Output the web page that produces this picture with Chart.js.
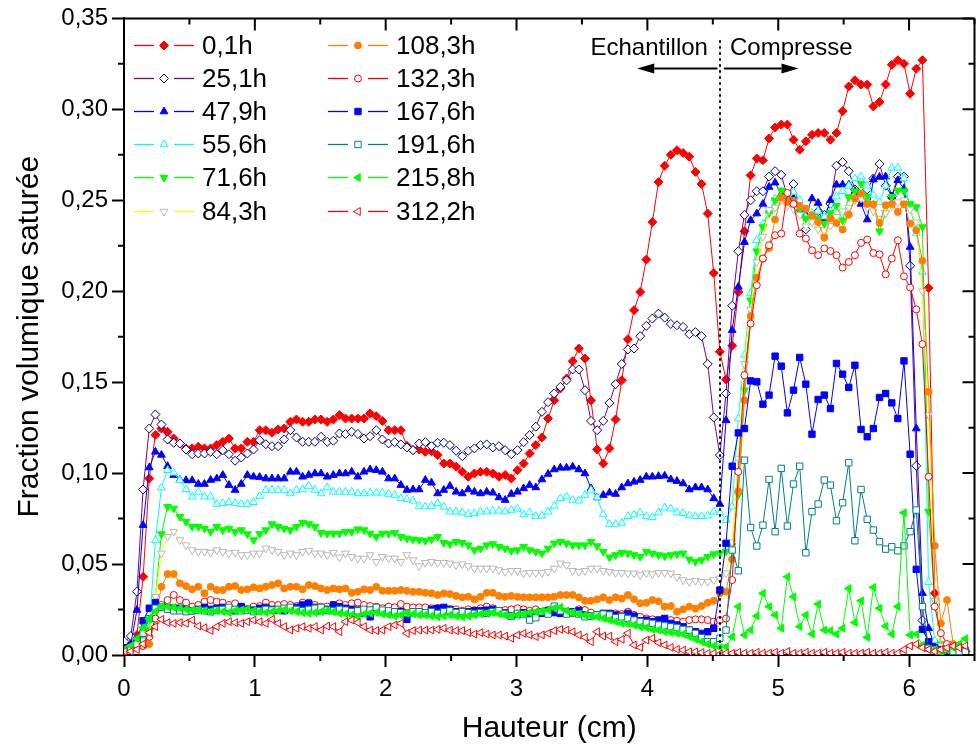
<!DOCTYPE html>
<html><head><meta charset="utf-8">
<script src="https://cdn.jsdelivr.net/npm/chart.js"></script>
<style>html,body{margin:0;padding:0;background:#fff;overflow:hidden;}#wrap{width:980px;height:751px;}</style>
</head><body><div id="wrap"><canvas id="c" width="980" height="751" style="width:980px;height:751px"></canvas></div>
<script>
// ---------- DATA ----------
const hauteur = [
0.005,0.052,0.099,0.146,0.193,0.240,0.286,0.333,0.380,0.427,
0.474,0.521,0.568,0.615,0.662,0.709,0.755,0.802,0.849,0.896,
0.943,0.990,1.037,1.084,1.131,1.178,1.224,1.271,1.318,1.365,
1.412,1.459,1.506,1.553,1.600,1.647,1.693,1.740,1.787,1.834,
1.881,1.928,1.975,2.022,2.069,2.116,2.162,2.209,2.256,2.303,
2.350,2.397,2.444,2.491,2.538,2.585,2.631,2.678,2.725,2.772,
2.819,2.866,2.913,2.960,3.007,3.054,3.100,3.147,3.194,3.241,
3.288,3.335,3.382,3.429,3.476,3.523,3.569,3.616,3.663,3.710,
3.757,3.804,3.851,3.898,3.945,3.992,4.038,4.085,4.132,4.179,
4.226,4.273,4.320,4.367,4.414,4.461,4.507,4.554,4.601,4.648,
4.695,4.742,4.789,4.836,4.883,4.930,4.976,5.023,5.070,5.117,
5.164,5.211,5.258,5.305,5.352,5.399,5.445,5.492,5.539,5.586,
5.633,5.680,5.727,5.774,5.821,5.868,5.914,5.961,6.008,6.055,
6.102,6.149,6.196,6.243,6.290,6.337,6.383,6.430];

const seriesLabels = ['0,1h','25,1h','47,9h','55,6h','71,6h','84,3h','108,3h','132,3h','167,6h','191,6h','215,8h','312,2h'];

const s0_1h = [
0.004,0.006,0.011,0.043,0.097,0.121,0.1245,0.1227,0.119,0.1163,
0.1136,0.1136,0.1145,0.1136,0.1136,0.1154,0.1172,0.119,0.1136,0.1136,
0.1172,0.1172,0.1236,0.1236,0.1222,0.124,0.1245,0.1282,0.1295,0.1282,
0.1282,0.1295,0.1295,0.1282,0.1295,0.1319,0.130,0.130,0.130,0.130,
0.1328,0.1313,0.1287,0.1236,0.1236,0.1236,0.1150,0.1126,0.113,0.1117,
0.112,0.110,0.1053,0.1053,0.1035,0.1007,0.098,0.0998,0.1007,0.1007,
0.0998,0.098,0.099,0.097,0.1016,0.1053,0.1108,0.1154,0.1196,0.130,
0.140,0.1465,0.152,0.1615,0.1685,0.163,0.140,0.113,0.1053,0.1136,
0.1295,0.151,0.1736,0.1896,0.1996,0.2174,0.238,0.260,0.269,0.275,
0.2775,0.276,0.274,0.2656,0.259,0.2427,0.210,0.1667,0.1515,0.170,
0.1996,0.233,0.2637,0.273,0.272,0.284,0.290,0.2916,0.2916,0.2833,
0.2778,0.2824,0.286,0.287,0.287,0.2833,0.287,0.299,0.3126,0.316,
0.3136,0.3136,0.3016,0.304,0.3137,0.3245,0.327,0.325,0.3086,0.3223,
0.327,0.2018,0.034,0.005,0.003,0.002,0.002,0.002];

const s25_1h = [
0.0073,0.0104,0.0348,0.091,0.1245,0.1322,0.1267,0.1185,0.1167,0.1163,
0.113,0.1104,0.1108,0.1108,0.1117,0.1104,0.1126,0.1104,0.1068,0.1086,
0.1108,0.113,0.1181,0.1159,0.1148,0.1148,0.1185,0.1236,0.1196,0.1172,
0.1172,0.1172,0.120,0.1172,0.1178,0.1218,0.1215,0.1227,0.1215,0.119,
0.1203,0.1236,0.1185,0.1163,0.117,0.1158,0.1141,0.1126,0.1163,0.117,
0.1148,0.1167,0.1167,0.1154,0.1123,0.1093,0.1123,0.1136,0.1154,0.1158,
0.1141,0.1148,0.1126,0.1104,0.1126,0.117,0.1209,0.1255,0.1337,0.139,
0.1438,0.1474,0.151,0.157,0.157,0.1456,0.1287,0.1236,0.1287,0.1386,
0.1489,0.160,0.168,0.1685,0.1753,0.181,0.185,0.1877,0.1855,0.182,
0.1813,0.1804,0.1764,0.1775,0.1753,0.160,0.1306,0.1099,0.1438,0.192,
0.222,0.242,0.250,0.255,0.255,0.263,0.266,0.264,0.252,0.259,
0.245,0.234,0.240,0.244,0.242,0.248,0.269,0.271,0.266,0.256,
0.250,0.256,0.262,0.270,0.258,0.252,0.263,0.263,0.214,0.104,
0.019,0.006,0.004,0.003,0.003,0.002,0.002,0.002];

const s47_9h = [
0.003,0.006,0.0247,0.0714,0.1031,0.1117,0.110,0.1038,0.0989,0.0962,
0.096,0.096,0.094,0.094,0.0962,0.097,0.0989,0.0934,0.0907,0.094,
0.0989,0.098,0.0978,0.097,0.097,0.097,0.097,0.1007,0.1007,0.098,
0.0989,0.0998,0.0998,0.098,0.0989,0.0998,0.0998,0.1007,0.098,0.1007,
0.102,0.1016,0.1007,0.097,0.097,0.0934,0.0907,0.091,0.091,0.0962,
0.0947,0.0888,0.0907,0.0929,0.0897,0.0888,0.091,0.0897,0.0888,0.0897,
0.0892,0.0866,0.0852,0.0885,0.0897,0.0916,0.0934,0.0921,0.0965,0.0995,
0.102,0.1029,0.1029,0.1035,0.102,0.0998,0.0916,0.0866,0.0879,0.0892,
0.0885,0.0921,0.0943,0.0952,0.0962,0.098,0.098,0.0983,0.0985,0.0965,
0.0956,0.0943,0.091,0.0921,0.0921,0.091,0.0861,0.083,0.129,0.1786,
0.2024,0.227,0.239,0.2427,0.248,0.2573,0.2597,0.2533,0.25,0.251,
0.246,0.2418,0.251,0.2485,0.240,0.250,0.2586,0.2586,0.2586,0.255,
0.248,0.2394,0.2614,0.2628,0.263,0.252,0.261,0.2564,0.2243,0.1245,
0.034,0.0147,0.005,0.003,0.003,0.002,0.002,0.002];

const s55_6h = [
0.003,0.004,0.006,0.008,0.015,0.063,0.092,0.1016,0.1002,0.096,
0.091,0.087,0.0897,0.087,0.087,0.083,0.0834,0.084,0.0834,0.083,
0.083,0.084,0.0874,0.0907,0.0907,0.0907,0.0907,0.0888,0.0907,0.091,
0.0929,0.0907,0.0888,0.0921,0.0897,0.0897,0.0897,0.0897,0.0888,0.0888,
0.0892,0.0892,0.0892,0.0885,0.0879,0.0861,0.0856,0.0848,0.0819,0.0815,
0.0819,0.0834,0.0815,0.0788,0.0788,0.0783,0.0775,0.0779,0.0788,0.0788,
0.0793,0.0793,0.0788,0.0797,0.0804,0.0772,0.0783,0.0763,0.0766,0.0788,
0.082,0.0861,0.087,0.0852,0.0848,0.0879,0.0907,0.0866,0.0772,0.072,
0.072,0.0727,0.0763,0.0772,0.0783,0.0763,0.0757,0.0783,0.081,0.0804,
0.0783,0.0779,0.0766,0.0763,0.0763,0.0766,0.0788,0.0783,0.0742,0.0815,
0.130,0.165,0.199,0.228,0.237,0.244,0.251,0.250,0.2527,0.2546,
0.250,0.2408,0.243,0.244,0.241,0.244,0.252,0.255,0.258,0.262,
0.263,0.258,0.253,0.249,0.258,0.2678,0.2678,0.262,0.246,0.232,
0.2106,0.04,0.008,0.005,0.003,0.003,0.002,0.002];

const s71_6h = [
0.003,0.004,0.006,0.01,0.014,0.032,0.0665,0.0815,0.0806,0.076,
0.0733,0.0705,0.0705,0.0696,0.0678,0.0705,0.0687,0.0696,0.0678,0.0687,
0.0665,0.0632,0.0666,0.0687,0.072,0.0705,0.0696,0.0687,0.0705,0.0727,
0.072,0.0705,0.0672,0.0668,0.0668,0.0668,0.0678,0.0678,0.0692,0.0687,
0.0668,0.065,0.0668,0.0668,0.0672,0.065,0.0641,0.0636,0.0632,0.0628,
0.0636,0.065,0.0617,0.061,0.0623,0.0617,0.0604,0.0577,0.0586,0.0604,
0.061,0.0595,0.0586,0.0573,0.0577,0.0595,0.0577,0.0568,0.0559,0.0586,
0.0614,0.0623,0.0614,0.0604,0.0604,0.0604,0.0623,0.0599,0.0568,0.0537,
0.055,0.0562,0.0559,0.055,0.054,0.0568,0.0559,0.055,0.0544,0.055,
0.0555,0.0559,0.0526,0.0513,0.0522,0.054,0.0555,0.0559,0.057,0.06,
0.0879,0.1456,0.195,0.222,0.2353,0.243,0.25,0.2555,0.253,0.248,
0.2448,0.24,0.239,0.24,0.237,0.243,0.247,0.239,0.2518,0.255,
0.2591,0.252,0.248,0.233,0.243,0.252,0.2555,0.255,0.248,0.2463,
0.2353,0.0788,0.03,0.006,0.004,0.003,0.003,0.002];

const s84_3h = [
0.003,0.004,0.005,0.008,0.012,0.032,0.0559,0.065,0.0678,0.0632,
0.0604,0.0577,0.0568,0.0568,0.0563,0.0577,0.0568,0.0559,0.0563,0.055,
0.055,0.0559,0.0559,0.0586,0.0577,0.0568,0.055,0.0559,0.055,0.0568,
0.0573,0.0559,0.0559,0.055,0.0563,0.0537,0.0559,0.054,0.0531,0.0531,
0.055,0.0513,0.054,0.0531,0.0531,0.0513,0.055,0.0522,0.0489,0.0507,
0.0513,0.0507,0.0507,0.0504,0.0495,0.05,0.0489,0.0476,0.0476,0.0476,
0.0476,0.0467,0.0458,0.0463,0.0463,0.0449,0.0452,0.0452,0.0452,0.0458,
0.0476,0.0504,0.0495,0.0463,0.0458,0.0463,0.0476,0.0476,0.0463,0.0458,
0.0452,0.0452,0.0449,0.0449,0.044,0.0449,0.0445,0.0452,0.0452,0.0449,
0.043,0.0412,0.0403,0.0408,0.0403,0.0403,0.0412,0.0421,0.045,0.062,
0.108,0.16,0.19,0.216,0.23,0.2448,0.246,0.25,0.247,0.245,
0.242,0.2357,0.238,0.234,0.2298,0.236,0.241,0.244,0.246,0.25,
0.251,0.246,0.244,0.24,0.243,0.247,0.249,0.25,0.245,0.238,
0.2,0.132,0.03,0.005,0.004,0.003,0.003,0.002];

const s108_3h = [
0.002,0.003,0.004,0.005,0.006,0.02,0.0375,0.0445,0.0445,0.0394,
0.0379,0.0361,0.0375,0.0339,0.0375,0.0357,0.0357,0.0375,0.0379,0.0357,
0.0361,0.0372,0.0366,0.0375,0.0385,0.0394,0.0366,0.0375,0.0375,0.0361,
0.0385,0.0379,0.0366,0.0357,0.0366,0.0361,0.0366,0.0342,0.0348,0.0361,
0.0357,0.0375,0.0353,0.0353,0.0353,0.0357,0.0353,0.0348,0.0348,0.0342,
0.0339,0.033,0.0339,0.0335,0.0325,0.0317,0.032,0.0306,0.032,0.0342,
0.0342,0.0325,0.032,0.0325,0.032,0.0317,0.0317,0.0317,0.0317,0.0317,
0.032,0.033,0.033,0.033,0.0317,0.0298,0.0298,0.0306,0.0317,0.0302,
0.0317,0.031,0.033,0.0306,0.0284,0.0287,0.0302,0.0295,0.0266,0.0269,
0.0238,0.0251,0.0266,0.0255,0.0269,0.0287,0.0298,0.0339,0.0348,0.0526,
0.09,0.14,0.1863,0.2075,0.218,0.2238,0.2394,0.2515,0.249,0.2496,
0.247,0.2454,0.2418,0.238,0.2295,0.24,0.2375,0.2339,0.2421,0.251,
0.2537,0.248,0.2478,0.2375,0.2473,0.248,0.2436,0.2478,0.2372,0.2335,
0.2167,0.1447,0.06,0.0174,0.0302,0.006,0.004,0.003];

const s132_3h = [
0.003,0.003,0.004,0.005,0.01,0.02,0.0275,0.0302,0.033,0.0302,
0.0288,0.0266,0.0275,0.0293,0.0302,0.0293,0.0288,0.0275,0.0284,0.0266,
0.0251,0.0266,0.0269,0.0288,0.0275,0.0275,0.028,0.0275,0.0269,0.0288,
0.0288,0.0275,0.0266,0.0266,0.0275,0.0284,0.0275,0.0284,0.0288,0.0275,
0.0269,0.0266,0.0257,0.0266,0.0262,0.028,0.0266,0.0262,0.0262,0.0262,
0.0257,0.0257,0.0251,0.0251,0.0251,0.0243,0.0251,0.0247,0.0257,0.0266,
0.0257,0.0243,0.0247,0.0251,0.0257,0.0251,0.0243,0.0251,0.0238,0.0247,
0.0257,0.0243,0.0238,0.0229,0.0251,0.0247,0.0233,0.022,0.022,0.0214,
0.0229,0.0225,0.0238,0.022,0.021,0.0201,0.0196,0.0192,0.0183,0.0192,
0.0188,0.0183,0.0192,0.0196,0.0196,0.0192,0.0183,0.0192,0.02,0.0412,
0.1007,0.1538,0.1822,0.2033,0.218,0.2253,0.2308,0.2317,0.254,0.248,
0.2317,0.229,0.2225,0.2198,0.2235,0.2221,0.2198,0.213,0.2161,0.2198,
0.2266,0.2284,0.221,0.2203,0.2093,0.218,0.228,0.2082,0.202,0.19,
0.1709,0.098,0.0266,0.012,0.006,0.004,0.003,0.003];

const s167_6h = [
0.004,0.005,0.008,0.0188,0.0257,0.0288,0.0262,0.0262,0.0257,0.0257,
0.0251,0.0243,0.0251,0.0262,0.0251,0.0257,0.0262,0.0251,0.0243,0.0266,
0.0251,0.0247,0.0257,0.0262,0.0251,0.0247,0.0243,0.0251,0.0262,0.0275,
0.0284,0.0262,0.0243,0.0251,0.0275,0.0266,0.0257,0.0251,0.0247,0.0229,
0.021,0.0251,0.0243,0.0238,0.0229,0.0238,0.0196,0.0233,0.0238,0.0229,
0.0251,0.0257,0.0262,0.0251,0.0238,0.0233,0.0238,0.0243,0.0243,0.0247,
0.0251,0.0243,0.0233,0.0214,0.0225,0.0233,0.0225,0.0229,0.0229,0.0243,
0.0233,0.0229,0.0229,0.0238,0.0243,0.022,0.0214,0.022,0.0229,0.0229,
0.022,0.0214,0.0229,0.0214,0.0188,0.0192,0.0183,0.0192,0.0201,0.0174,
0.0165,0.0155,0.0137,0.0128,0.0119,0.0128,0.0147,0.0357,0.0614,0.1038,
0.1221,0.1245,0.1507,0.1502,0.1379,0.1429,0.1643,0.1588,0.1331,0.1456,
0.1636,0.1489,0.1214,0.1405,0.1429,0.1355,0.1603,0.1544,0.1471,0.1593,
0.124,0.12,0.1245,0.1416,0.1438,0.1386,0.13,0.1617,0.1104,0.0471,
0.0141,0.0073,0.004,0.003,0.003,0.002,0.002,0.002];

const s191_6h = [
0.003,0.004,0.006,0.012,0.02,0.0257,0.0262,0.0251,0.0243,0.0243,
0.0238,0.0243,0.0247,0.0243,0.0238,0.0247,0.0251,0.0262,0.0251,0.0243,
0.0247,0.0238,0.0243,0.0251,0.0247,0.0251,0.0257,0.0262,0.0251,0.0243,
0.0251,0.0257,0.0262,0.0247,0.0243,0.0251,0.0247,0.0238,0.0243,0.0251,
0.0247,0.0262,0.0247,0.0243,0.0238,0.0233,0.0229,0.0238,0.0238,0.0233,
0.0238,0.0229,0.0238,0.0243,0.0233,0.0238,0.0233,0.0229,0.0233,0.0229,
0.0238,0.0243,0.0229,0.0214,0.0229,0.0225,0.0192,0.0205,0.0238,0.0225,
0.0269,0.0243,0.0225,0.0233,0.0225,0.021,0.0214,0.022,0.0225,0.022,
0.0205,0.021,0.0201,0.0192,0.0183,0.0178,0.0174,0.0165,0.016,0.0155,
0.0151,0.0141,0.0137,0.0119,0.0096,0.0073,0.0073,0.0092,0.0137,0.0577,
0.0463,0.1071,0.0701,0.0599,0.0714,0.0965,0.0678,0.1026,0.0709,0.094,
0.1038,0.0562,0.0788,0.083,0.0962,0.0934,0.0738,0.0837,0.1057,0.0628,
0.091,0.0746,0.0687,0.0623,0.0582,0.0595,0.0573,0.06,0.0678,0.0797,
0.0266,0.0037,0.003,0.002,0.003,0.002,0.002,0.002];

const s215_8h = [
0.003,0.005,0.009,0.015,0.02,0.024,0.0266,0.0266,0.0262,0.0257,
0.0251,0.0247,0.0247,0.0243,0.0238,0.0243,0.0238,0.0233,0.0243,0.0247,
0.0251,0.0243,0.0238,0.0233,0.0238,0.0243,0.0247,0.0243,0.0238,0.0233,
0.0229,0.0233,0.0238,0.0243,0.0238,0.0229,0.0225,0.022,0.021,0.0225,
0.0229,0.0233,0.0225,0.022,0.0214,0.022,0.0229,0.0225,0.022,0.022,
0.0214,0.021,0.0214,0.022,0.0214,0.021,0.0214,0.022,0.0225,0.0229,
0.0233,0.0225,0.022,0.0214,0.022,0.0225,0.0233,0.0238,0.0243,0.0247,
0.0257,0.0262,0.0243,0.0233,0.0225,0.022,0.0214,0.021,0.0201,0.0192,
0.0183,0.0174,0.017,0.0165,0.0155,0.0151,0.0141,0.0137,0.0128,0.0124,
0.0119,0.0115,0.0101,0.0087,0.0073,0.006,0.005,0.0042,0.0045,0.01,
0.0266,0.011,0.0137,0.0214,0.0339,0.0266,0.022,0.0147,0.043,0.032,
0.0156,0.022,0.0115,0.028,0.0137,0.0134,0.0115,0.0147,0.0366,0.0178,
0.0298,0.0097,0.0372,0.0257,0.0159,0.0115,0.0266,0.0782,0.011,0.0115,
0.0055,0.003,0.003,0.002,0.003,0.004,0.006,0.009];

const s312_2h = [
0.002,0.002,0.003,0.006,0.0123,0.0156,0.0196,0.0178,0.0174,0.0178,
0.0174,0.0192,0.0159,0.015,0.0134,0.0156,0.0174,0.0183,0.0178,0.0174,
0.0183,0.0192,0.0183,0.0174,0.0196,0.0174,0.0156,0.0137,0.0147,0.0156,
0.0147,0.0156,0.0137,0.0159,0.0156,0.0128,0.0183,0.0192,0.0178,0.0156,
0.0137,0.0134,0.0137,0.0156,0.0165,0.0174,0.0119,0.0134,0.0137,0.0137,
0.0137,0.0141,0.0147,0.0137,0.0134,0.0134,0.0123,0.0115,0.0123,0.0115,
0.011,0.011,0.0104,0.0092,0.011,0.0119,0.011,0.0101,0.011,0.0119,
0.0134,0.0141,0.0137,0.0128,0.011,0.0097,0.0073,0.0128,0.0104,0.0104,
0.0073,0.0086,0.012,0.0055,0.0042,0.0082,0.0092,0.0068,0.0055,0.0042,
0.0031,0.0027,0.0018,0.0018,0.0014,0.0009,0.0009,0.0005,0.001,0.001,
0.0015,0.001,0.001,0.0015,0.001,0.001,0.0015,0.001,0.002,0.001,
0.001,0.0015,0.001,0.001,0.0015,0.001,0.001,0.0015,0.001,0.001,
0.001,0.0015,0.001,0.001,0.0015,0.001,0.001,0.003,0.005,0.006,
0.004,0.003,0.002,0.003,0.004,0.005,0.004,0.005];

const seriesValues = [s0_1h,s25_1h,s47_9h,s55_6h,s71_6h,s84_3h,s108_3h,s132_3h,s167_6h,s191_6h,s215_8h,s312_2h];

const xTickValues = [0,1,2,3,4,5,6];
const yTickValues = [0,0.05,0.10,0.15,0.20,0.25,0.30,0.35];

// ---------- STYLES ----------
const FONT = "'Liberation Sans', Arial, Helvetica, sans-serif";
const styles = [
 {line:'#ff0000', fill:'#ff0000', stroke:'#ff0000', shape:'rectRot',  rot:0,   r:4.5},
 {line:'#800080', fill:'#ffffff', stroke:'#000080', shape:'rectRot',  rot:0,   r:4.5},
 {line:'#0000ff', fill:'#0000ff', stroke:'#0000ff', shape:'triangle', rot:0,   r:4.5},
 {line:'#00ffff', fill:'#ffffff', stroke:'#00ffff', shape:'triangle', rot:0,   r:4.5},
 {line:'#00ff00', fill:'#00ff00', stroke:'#00ff00', shape:'triangle', rot:180, r:4.5},
 {line:'#ffff00', fill:'#ffffff', stroke:'#b8b8b8', shape:'triangle', rot:180, r:4.5},
 {line:'#ff8000', fill:'#ff8000', stroke:'#ff8000', shape:'circle',   rot:0,   r:3.5},
 {line:'#ff0000', fill:'#ffffff', stroke:'#ff0000', shape:'circle',   rot:0,   r:3.5},
 {line:'#0000ff', fill:'#0000ff', stroke:'#0000ff', shape:'rect',     rot:0,   r:4.5},
 {line:'#008080', fill:'#ffffff', stroke:'#008080', shape:'rect',     rot:0,   r:4.5},
 {line:'#00ff00', fill:'#00ff00', stroke:'#00ff00', shape:'triangle', rot:270, r:4.5},
 {line:'#ff0000', fill:'#ffffff', stroke:'#ff0000', shape:'triangle', rot:270, r:4.5}
];

const datasets = seriesValues.map((vals, i) => ({
  label: seriesLabels[i],
  data: vals.map((v, k) => ({x: hauteur[k], y: v})),
  borderColor: styles[i].line,
  borderWidth: 1,
  pointStyle: styles[i].shape,
  pointRotation: styles[i].rot,
  pointRadius: styles[i].r,
  pointBackgroundColor: styles[i].fill,
  pointBorderColor: styles[i].stroke,
  pointBorderWidth: 1,
  tension: 0,
  fill: false,
  order: -i
}));

function drawMarker(ctx, shape, rot, r, x, y) {
  if (Chart.helpers && Chart.helpers.drawPoint) {
    Chart.helpers.drawPoint(ctx, {pointStyle: shape, rotation: rot, radius: r, borderWidth: 1}, x, y);
    return;
  }
  ctx.beginPath(); ctx.arc(x, y, r, 0, Math.PI*2); ctx.fill(); ctx.stroke();
}

const framePlugin = {
  id: 'frame',
  afterDraw(chart) {
    const {ctx, chartArea: a, scales: {x, y}} = chart;
    ctx.save();
    ctx.strokeStyle = '#000'; ctx.lineWidth = 2;
    ctx.beginPath();
    ctx.moveTo(a.left - 1, a.top); ctx.lineTo(a.right, a.top);
    ctx.moveTo(a.right, a.top); ctx.lineTo(a.right, a.bottom);
    ctx.stroke();
    const xMinor = xTickValues.map(v => v + 0.5);
    const yMinor = yTickValues.slice(0, -1).map(v => v + 0.025);
    ctx.beginPath();
    xTickValues.forEach(v => { const p = x.getPixelForValue(v); ctx.moveTo(p, a.top); ctx.lineTo(p, a.top + 12); });
    xMinor.forEach(v => { const p = x.getPixelForValue(v); ctx.moveTo(p, a.top); ctx.lineTo(p, a.top + 6);
      ctx.moveTo(p, a.bottom); ctx.lineTo(p, a.bottom + 6); });
    yTickValues.forEach(v => { const p = y.getPixelForValue(v); ctx.moveTo(a.right, p); ctx.lineTo(a.right - 12, p); });
    yMinor.forEach(v => { const p = y.getPixelForValue(v); ctx.moveTo(a.right, p); ctx.lineTo(a.right - 6, p);
      ctx.moveTo(a.left, p); ctx.lineTo(a.left - 6, p); });
    ctx.stroke();
    ctx.restore();
  }
};

const annotPlugin = {
  id: 'annot',
  afterDatasetsDraw(chart) {
    const {ctx, chartArea: a, scales: {x, y}} = chart;
    ctx.save();
    const px = x.getPixelForValue(4.555);
    ctx.strokeStyle = '#000'; ctx.lineWidth = 2; ctx.setLineDash([2.5, 3.5]);
    ctx.beginPath(); ctx.moveTo(px, y.getPixelForValue(0.338)); ctx.lineTo(px, a.bottom); ctx.stroke();
    ctx.setLineDash([]);
    ctx.fillStyle = '#000';
    ctx.font = '24px ' + FONT; ctx.textAlign = 'center'; ctx.textBaseline = 'middle';
    const ty = y.getPixelForValue(0.3335);
    ctx.fillText('Echantillon', x.getPixelForValue(4.014), ty);
    ctx.fillText('Compresse', x.getPixelForValue(5.10), ty);
    const ay = Math.round(y.getPixelForValue(0.3225)) + 0.5;
    function arrow(x1, x2) {
      const p1 = x.getPixelForValue(x1), p2 = x.getPixelForValue(x2);
      const dir = Math.sign(p2 - p1), hl = 17, hw = 5;
      ctx.lineWidth = 2;
      ctx.beginPath(); ctx.moveTo(p1, ay); ctx.lineTo(p2 - dir * hl, ay); ctx.stroke();
      ctx.beginPath(); ctx.moveTo(p2, ay); ctx.lineTo(p2 - dir * hl, ay - hw); ctx.lineTo(p2 - dir * hl, ay + hw); ctx.closePath(); ctx.fill();
    }
    arrow(4.535, 3.922);
    arrow(4.585, 5.155);
    ctx.restore();
  }
};

const legendPlugin = {
  id: 'legendBox',
  afterDraw(chart) {
    const ctx = chart.ctx;
    const cols = [134, 328];
    seriesLabels.forEach((lab, i) => {
      const st = styles[i];
      const x0 = cols[Math.floor(i / 6)], yy = Math.round(45 + (i % 6) * 33.1) + 0.5;
      ctx.save();
      ctx.setLineDash([]);
      ctx.strokeStyle = st.line; ctx.lineWidth = 1.3;
      ctx.beginPath(); ctx.moveTo(x0, yy); ctx.lineTo(x0 + 20, yy); ctx.stroke();
      ctx.beginPath(); ctx.moveTo(x0 + 40, yy); ctx.lineTo(x0 + 60, yy); ctx.stroke();
      ctx.fillStyle = st.fill; ctx.strokeStyle = st.stroke; ctx.lineWidth = 1;
      drawMarker(ctx, st.shape, st.rot, st.r, x0 + 30, yy);
      ctx.fillStyle = '#000'; ctx.font = '26px ' + FONT; ctx.textAlign = 'left'; ctx.textBaseline = 'middle';
      ctx.fillText(lab, x0 + 68, yy + 1);
      ctx.restore();
    });
  }
};

Chart.defaults.font.family = FONT;
Chart.defaults.color = '#000';

new Chart(document.getElementById('c'), {
  type: 'line',
  data: {datasets},
  plugins: [annotPlugin, framePlugin, legendPlugin],
  options: {
    responsive: false,
    animation: false,
    events: [],
    layout: {padding: {left: 0, right: 1, top: 18, bottom: 0}},
    plugins: {legend: {display: false}, tooltip: {enabled: false}},
    scales: {
      x: {
        type: 'linear', min: 0, max: 6.5,
        afterFit: s => { s.height = 96; },
        afterBuildTicks: s => { s.ticks = xTickValues.map(v => ({value: v})); },
        ticks: {font: {size: 24}, padding: 8, autoSkip: false, maxRotation: 0, callback: v => String(v)},
        grid: {drawOnChartArea: false, drawTicks: true, tickLength: 12, tickWidth: 2, tickColor: '#000'},
        border: {display: true, color: '#000', width: 2},
        title: {display: true, text: 'Hauteur (cm)', font: {size: 30}, padding: {top: 0, bottom: 4}}
      },
      y: {
        type: 'linear', min: 0, max: 0.35,
        afterFit: s => { s.width = 124; },
        afterBuildTicks: s => { s.ticks = yTickValues.map(v => ({value: v})); },
        ticks: {font: {size: 24}, padding: 4, callback: v => Number(v).toFixed(2).replace('.', ',')},
        grid: {drawOnChartArea: false, drawTicks: true, tickLength: 12, tickWidth: 2, tickColor: '#000'},
        border: {display: true, color: '#000', width: 2},
        title: {display: true, text: 'Fraction volumique saturée', font: {size: 30}, padding: {top: 12, bottom: 0}}
      }
    }
  }
});
</script>
</body></html>
